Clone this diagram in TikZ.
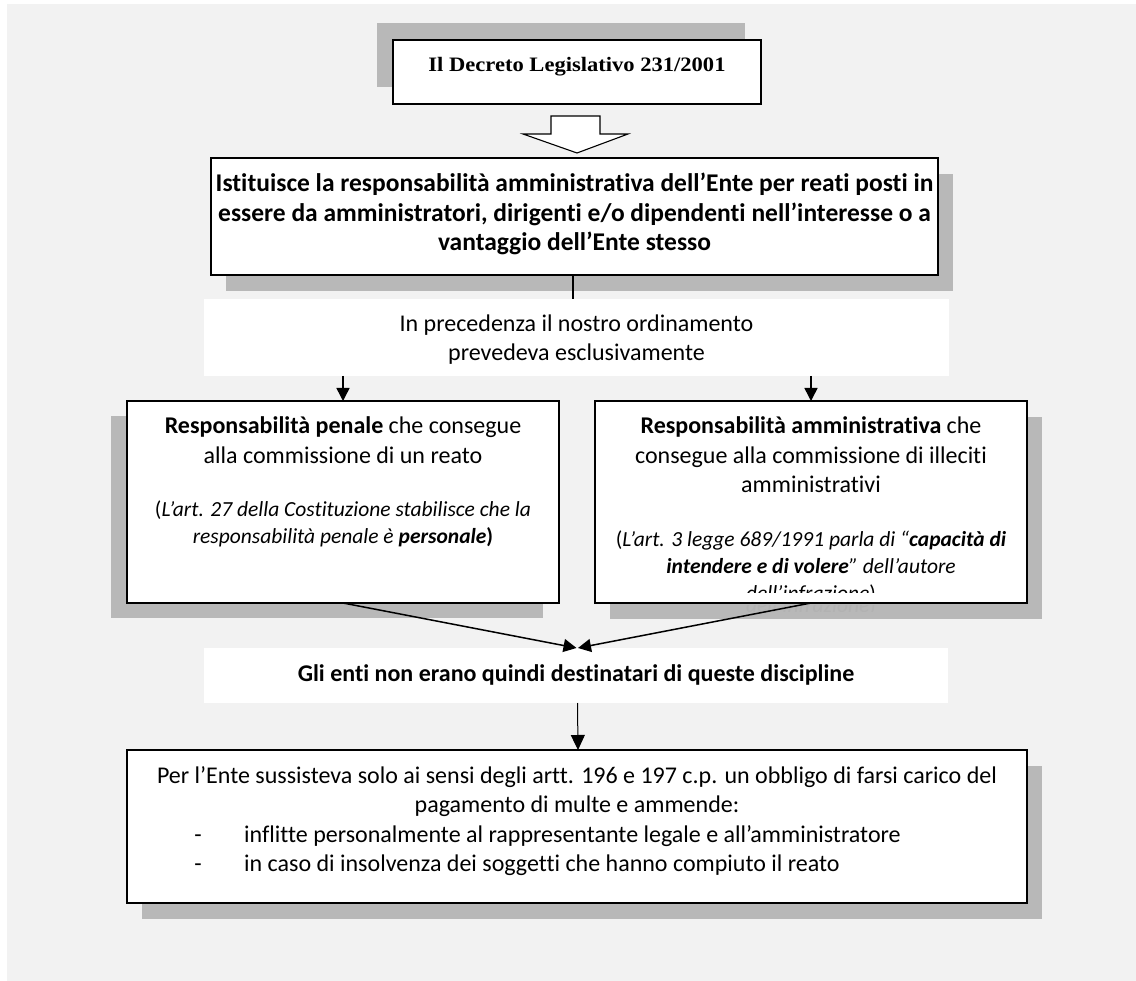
\documentclass[tikz,border=0pt]{standalone}
\usepackage{fontspec}
\setmainfont[Ligatures=NoCommon]{Carlito}
\newfontfamily\cambria[FakeStretch=1.1]{Liberation Serif}
\usetikzlibrary{arrows.meta,shadows}
\definecolor{bg}{HTML}{F2F2F2}
\definecolor{shad}{HTML}{B8B8B8}
\begin{document}
\begin{tikzpicture}[x=1pt,y=-1pt,
  box/.style={draw=black,line width=1.8pt,fill=white,inner sep=0pt,outer sep=0pt},
  plainbox/.style={fill=white,inner sep=0pt,outer sep=0pt},
  shdr/.style={drop shadow={shadow xshift=15pt,shadow yshift=-16pt,fill=shad,opacity=1}},
  shdl/.style={drop shadow={shadow xshift=-16pt,shadow yshift=-15pt,fill=shad,opacity=1}},
  shdu/.style={drop shadow={shadow xshift=-16pt,shadow yshift=17pt,fill=shad,opacity=1}},
  txt/.style={anchor=base,inner sep=0pt,font=\fontsize{24}{29}\selectfont},
  itx/.style={anchor=base,inner sep=0pt,font=\fontsize{21.5}{27}\selectfont\itshape},
  conn/.style={line width=1.5pt,-{Triangle[length=13pt,width=13pt]}},
  connthin/.style={line width=1pt,-{Triangle[length=15pt,width=14pt]}},
]
\useasboundingbox (0,0) rectangle (1136,981);
\fill[bg] (7,4) rectangle (1136,981);

% boxes
\node[box,shdu,minimum width=368pt,minimum height=64pt] (d1) at (577,72) {};
\node[box,shdr,minimum width=727pt,minimum height=117pt] (ist) at (574.5,216.5) {};
\node[plainbox,minimum width=745pt,minimum height=77pt] (prec) at (576.5,337.5) {};
\node[box,shdl,minimum width=432pt,minimum height=202pt] (pen) at (343,502) {};
\node[box,shdr,minimum width=432pt,minimum height=202pt] (adm) at (811,502) {};
\node[plainbox,minimum width=744pt,minimum height=55pt] (enti) at (576,675.5) {};
\node[box,shdr,minimum width=900pt,minimum height=153pt] (fin) at (577,826.5) {};

% block arrow
\draw[fill=white,line width=1.1pt,line join=miter]
  (551,116) -- (600,116) -- (600,134) -- (628,134) -- (577,153) -- (523,134) -- (551,134) -- cycle;

% texts
\node[anchor=base,inner sep=0pt,font=\fontsize{20.5}{25}\selectfont\cambria\bfseries] (d1t) at (577,72) {Il Decreto Legislativo 231/2001};

\node[txt,font=\fontsize{25.5}{29}\selectfont\bfseries] (i1) at (574.5,192) {Istituisce la responsabilità amministrativa dell’Ente per reati posti in};
\node[txt,font=\fontsize{25.5}{29}\selectfont\bfseries] (i2) at (574.5,221.5) {essere da amministratori, dirigenti e/o dipendenti nell’interesse o a};
\node[txt,font=\fontsize{25.5}{29}\selectfont\bfseries] (i3) at (574.5,250.5) {vantaggio dell’Ente stesso};

\node[txt] (p1) at (576.5,332) {In precedenza il nostro ordinamento};
\node[txt] (p2) at (576.5,361) {prevedeva esclusivamente};

\node[txt] (l1) at (343,434) {\textbf{Responsabilità penale} che consegue};
\node[txt] (l2) at (343,464) {alla commissione di un reato};
\node[itx] (l3) at (343,517) {\upshape(\itshape L’art. 27 della Costituzione stabilisce che la};
\node[itx] (l4) at (343,543.5) {responsabilità penale è \textbf{personale}\upshape\bfseries)};

\node[txt] (r1) at (811,434) {\textbf{Responsabilità amministrativa} che};
\node[txt] (r2) at (811,463.5) {consegue alla commissione di illeciti};
\node[txt] (r3) at (811,492.5) {amministrativi};
\node[itx] (r4) at (811,547) {\upshape(\itshape L’art. 3 legge 689/1991 parla di “\textbf{capacità di}};
\node[itx] (r5) at (811,573.5) {\textbf{intendere e di volere}” dell’autore};
\begin{scope}
  \clip (600,560) rectangle (1022,592);
  \node[itx] (r6) at (811,600) {dell’infrazione\upshape)};
\end{scope}
\begin{scope}
  \clip (612,605) rectangle (1040,611);
  \node[itx,text=black!30] (r6b) at (811,612) {dell’infrazione\upshape)};
\end{scope}

\node[txt,font=\fontsize{24}{29}\selectfont\bfseries] (e1) at (576,681) {Gli enti non erano quindi destinatari di queste discipline};

\node[txt] (f1) at (577,783) {Per l’Ente sussisteva solo ai sensi degli artt. 196 e 197 c.p. un obbligo di farsi carico del};
\node[txt] (f2) at (577,812.5) {pagamento di multe e ammende:};
\node[txt] (f3d) at (198,842) {-};
\node[txt,anchor=base west] (f3) at (244,842) {inflitte personalmente al rappresentante legale e all’amministratore};
\node[txt] (f4d) at (198,871) {-};
\node[txt,anchor=base west] (f4) at (244,871) {in caso di insolvenza dei soggetti che hanno compiuto il reato};

% connectors
\draw[line width=1.5pt] ([xshift=-1.5pt]ist.south) -- ([xshift=-1.5pt]ist.south |- prec.north);
\draw[conn] (prec.south -| pen.north) -- (pen.north);
\draw[conn] (prec.south -| adm.north) -- (adm.north);
\draw[conn] (pen.south) -- ([xshift=0.5pt]enti.north);
\draw[conn] (adm.south) -- ([xshift=2pt]enti.north);
\draw[connthin] ([xshift=1.5pt]enti.south) -- ([xshift=1pt]fin.north);
\end{tikzpicture}
\end{document}
